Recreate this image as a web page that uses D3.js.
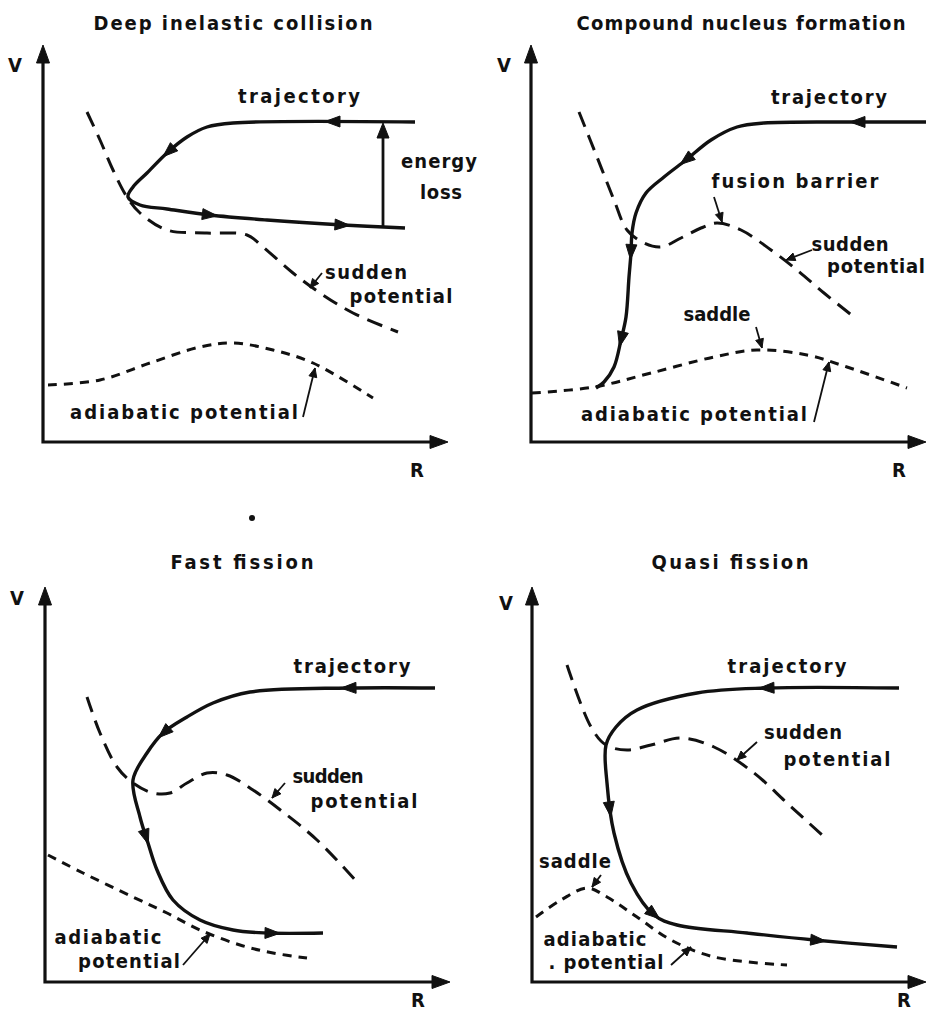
<!DOCTYPE html>
<html>
<head>
<meta charset="utf-8">
<title>Reaction trajectories</title>
<script src="https://cdn.jsdelivr.net/npm/d3@7"></script>
<style>
  body { margin: 0; background: #fff; }
  text { font-family: "DejaVu Sans Condensed", "DejaVu Sans", sans-serif; font-weight: bold; fill: #111; }
</style>
</head>
<body>
<svg id="fig" width="927" height="1015"></svg>
<script>
// Values in (R, V) units, both axes running 0..100.
const titles = ['Deep inelastic collision', 'Compound nucleus formation', 'Fast fission', 'Quasi fission'];

// trajectories, listed in the direction of travel
const trajDeep = [[93, 80], [47.5, 79.75], [41, 78.75], [36, 76.25], [31.25, 72.5], [26, 67.25], [22.5, 63.75],
  [21.25, 61.25], [24.25, 59.25], [31, 58.25], [41.75, 56.75], [56, 55.5], [75, 54.25], [90.5, 53.5]];
const trajCompound = [[98.75, 80], [81.5, 80], [58.25, 79.75], [51.5, 78.75], [45, 75.5], [38.75, 70.5], [33.25, 66.25],
  [28.75, 62.25], [26.25, 57.25], [25.25, 52.25], [25, 47.25], [24.5, 41.25], [23.75, 31.25], [22.5, 25.5],
  [20.75, 18.75], [18.25, 15], [16.25, 13.5]];
const trajFast = [[97.5, 73.5], [75.75, 73.5], [51.25, 72.5], [42, 69.75], [35.5, 66.25], [29.5, 62.25], [25.5, 57.25],
  [22, 50.5], [23.75, 41.25], [25.75, 34.75], [28, 28], [32, 20.5], [38.75, 15.5], [47, 13], [55.5, 12.25], [69.5, 12.25]];
const trajQuasi = [[91.75, 73.5], [58.5, 73.5], [41.25, 72.25], [26.25, 68], [21, 63.75], [18.5, 59.25], [18.75, 49.75],
  [20.5, 37.25], [24.75, 24.75], [30.5, 16.75], [36.25, 14.25], [53.75, 12.25], [70.5, 10.5], [91.25, 8.75]];

// where the direction marks sit on each trajectory
const arrowsDeep = [[72.25, 80], [31.25, 72.5], [41.75, 56.75], [75, 54.25]];
const arrowsCompound = [[81.5, 80], [38.75, 70.5], [25.25, 47.25], [22.5, 25.5]];
const arrowsFast = [[75.75, 73.5], [29.5, 62.25], [25.5, 36.25], [57, 12.25]];
const arrowsQuasi = [[58.5, 73.5], [19.75, 43], [31, 17.25], [71.75, 10.5]];

// sudden potentials (long dashes)
const suddenDeep = [[11, 82.5], [14.25, 75.5], [17.5, 68], [21, 61.25], [24.25, 57.25], [31, 53], [41, 52.25],
  [51, 51.75], [55, 48.75], [62.5, 42.25], [69.25, 37.25], [77.5, 32.25], [88.75, 27.5]];
const suddenCompound = [[12, 82.5], [16.5, 71.25], [20.75, 60.5], [24, 53], [28.25, 49.75], [32.5, 48.75], [37.5, 51],
  [42.5, 53.5], [46.5, 54.75], [52.5, 53], [60, 48], [66.5, 43], [73.25, 37.25], [80.75, 31.25]];
const suddenFast = [[10.5, 71.25], [13.75, 62.25], [18, 53.75], [22, 49.75], [27, 47.25], [31.25, 47.25], [35.5, 49.75],
  [40.5, 52.25], [45.5, 51.75], [52, 48], [59.5, 42.5], [68, 35.5], [78.25, 24.75]];
const suddenQuasi = [[8.75, 79.25], [14.75, 63.75], [18.5, 59.25], [23.75, 58], [29.75, 59.25], [37.25, 61],
  [45.5, 58.75], [55.5, 52.25], [63.75, 44.75], [72.5, 36.75]];

// adiabatic potentials (short dashes)
const adiabaticDeep = [[1.25, 14.25], [14.25, 15.5], [26.75, 19.75], [39.25, 23.75], [47.5, 24.75], [57.5, 23],
  [67.5, 19.75], [82.5, 11]];
const adiabaticCompound = [[0.25, 12.25], [15.75, 13.75], [30, 17.25], [45.75, 21.25], [56.5, 23], [69, 21.75],
  [79, 18.75], [94, 13.5]];
const adiabaticFast = [[0.75, 31.75], [9.5, 27.25], [22, 21.25], [30.5, 17.25], [38.75, 13], [48.75, 9.25],
  [57, 7.25], [65.5, 6]];
const adiabaticQuasi = [[1, 16.25], [7.25, 20.5], [13.75, 23.5], [18.75, 21.25], [26.25, 16.25], [34.75, 10.5],
  [45.5, 6.25], [63.75, 4.25]];

// energy loss in the deep inelastic case: outgoing and incoming levels at R = 85
const energyLoss = [[85, 53.75], [85, 80]];

// layout of each panel (pixels for origin / axis length, annotations in R,V units)
const panels = [
  {
    title: titles[0], titleAt: [47.5, 104.75], titleW: 279,
    origin: [43, 442], axisLen: [405, 397],
    traj: trajDeep, arrows: arrowsDeep, sudden: suddenDeep, adiabatic: adiabaticDeep,
    vAt: [-7, 94.25], rAt: [93.5, -7],
    labels: [
      { t: 'trajectory', at: [64, 86.25], w: 122 },
      { t: 'energy', at: [99, 70], w: 76 },
      { t: 'loss', at: [99.5, 62.25], w: 42 },
      { t: 'sudden', at: [80.75, 42.25], w: 82 },
      { t: 'potential', at: [89.5, 36.25], w: 103 },
      { t: 'adiabatic potential', at: [35.25, 7.25], w: 228 }
    ],
    leaders: [[[69.75, 42.25], [66.75, 38.5]], [[65, 6.25], [68, 18.5]]]
  },
  {
    title: titles[1], titleAt: [52.5, 104.75], titleW: 329,
    origin: [531, 442], axisLen: [395, 397],
    traj: trajCompound, arrows: arrowsCompound, sudden: suddenCompound, adiabatic: adiabaticCompound,
    vAt: [-6.75, 94.25], rAt: [92, -7],
    labels: [
      { t: 'trajectory', at: [74.5, 86], w: 116 },
      { t: 'fusion barrier', at: [66, 65], w: 167 },
      { t: 'sudden', at: [79.75, 49.25], w: 77 },
      { t: 'potential', at: [86.25, 43.75], w: 98 },
      { t: 'saddle', at: [46.5, 31.75], w: 67 },
      { t: 'adiabatic potential', at: [40.75, 6.75], w: 226 }
    ],
    leaders: [[[45.75, 61.25], [47.75, 55]], [[70.25, 48], [63.75, 45.5]],
      [[56.25, 28.75], [57.75, 23.5]], [[70.75, 5], [74.5, 20]]]
  },
  {
    title: titles[2], titleAt: [49.25, 105], titleW: 143,
    origin: [45, 982], axisLen: [405, 395],
    traj: trajFast, arrows: arrowsFast, sudden: suddenFast, adiabatic: adiabaticFast,
    vAt: [-7, 96], rAt: [93.25, -4.5], dot: [51.75, 116],
    labels: [
      { t: 'trajectory', at: [76.75, 78.75], w: 117 },
      { t: 'sudden', at: [70.75, 51.25], w: 71 },
      { t: 'potential', at: [79.75, 45], w: 107 },
      { t: 'adiabatic', at: [15.75, 11], w: 107 },
      { t: 'potential', at: [21, 5], w: 102 }
    ],
    leaders: [[[60, 49.75], [56.75, 46]], [[34.5, 4.25], [41.25, 12]]]
  },
  {
    title: titles[3], titleAt: [49.5, 105], titleW: 157,
    origin: [532, 982], axisLen: [394, 395],
    traj: trajQuasi, arrows: arrowsQuasi, sudden: suddenQuasi, adiabatic: adiabaticQuasi,
    vAt: [-6.5, 94.75], rAt: [93, -4.5],
    labels: [
      { t: 'trajectory', at: [63.75, 78.75], w: 119 },
      { t: 'sudden', at: [67.75, 62.25], w: 78 },
      { t: 'potential', at: [76.25, 55.5], w: 107 },
      { t: 'saddle', at: [10.75, 30], w: 72 },
      { t: 'adiabatic', at: [15.75, 10.5], w: 103 },
      { t: '. potential', at: [18.5, 4.75], w: 115 }
    ],
    leaders: [[[56.25, 60], [51.25, 55.5]], [[17.25, 26.75], [15, 23.75]], [[34.75, 4.25], [39.75, 8.75]]]
  }
];

const ink = '#111';
const svg = d3.select('#fig');

// filled triangle pointing along (dx, dy) with its tip at (x, y)
function arrowHead(g, x, y, dx, dy, len, half) {
  const n = Math.hypot(dx, dy) || 1;
  const ux = dx / n, uy = dy / n;
  const bx = x - ux * len, by = y - uy * len;
  g.append('path')
    .attr('d', `M${x},${y}L${bx - uy * half},${by + ux * half}L${bx + uy * half},${by - ux * half}Z`)
    .attr('fill', ink).attr('stroke', ink).attr('stroke-width', 1).attr('stroke-linejoin', 'round');
}

function drawPanel(p) {
  const [x0, y0] = p.origin;
  const x = d3.scaleLinear().domain([0, 100]).range([x0, x0 + 400]);
  const y = d3.scaleLinear().domain([0, 100]).range([y0, y0 - 400]);
  const g = svg.append('g').attr('class', 'panel');
  const line = d3.line().x(d => x(d[0])).y(d => y(d[1])).curve(d3.curveCatmullRom.alpha(0.5));

  // axes with arrow tips
  const xEnd = x0 + p.axisLen[0], yEnd = y0 - p.axisLen[1];
  g.append('path').attr('d', `M${x0},${yEnd + 8}V${y0}H${xEnd - 8}`)
    .attr('fill', 'none').attr('stroke', ink).attr('stroke-width', 3.2);
  arrowHead(g, x0, yEnd, 0, -1, 18, 6.5);
  arrowHead(g, xEnd, y0, 1, 0, 18, 6.5);

  g.append('text').attr('x', x(p.vAt[0])).attr('y', y(p.vAt[1])).attr('dy', '0.35em')
    .attr('text-anchor', 'middle').attr('font-size', 20).text('V');
  g.append('text').attr('x', x(p.rAt[0])).attr('y', y(p.rAt[1])).attr('dy', '0.35em')
    .attr('text-anchor', 'middle').attr('font-size', 20).text('R');

  g.append('path').datum(p.adiabatic).attr('d', line)
    .attr('fill', 'none').attr('stroke', ink).attr('stroke-width', 3).attr('stroke-dasharray', '9,7');
  g.append('path').datum(p.sudden).attr('d', line)
    .attr('fill', 'none').attr('stroke', ink).attr('stroke-width', 3).attr('stroke-dasharray', '16,9');

  const traj = g.append('path').datum(p.traj).attr('d', line)
    .attr('fill', 'none').attr('stroke', ink).attr('stroke-width', 3.4);

  // direction marks: nearest sample on the path, tangent from neighbours
  const node = traj.node();
  const total = node.getTotalLength();
  const samples = d3.range(0, total, 1).map(l => ({ l, pt: node.getPointAtLength(l) }));
  p.arrows.forEach(a => {
    const ax = x(a[0]), ay = y(a[1]);
    const best = d3.least(samples, s => (s.pt.x - ax) ** 2 + (s.pt.y - ay) ** 2);
    const p1 = node.getPointAtLength(Math.max(0, best.l - 3));
    const p2 = node.getPointAtLength(Math.min(total, best.l + 3));
    const tip = node.getPointAtLength(Math.min(total, best.l + 7));
    arrowHead(g, tip.x, tip.y, p2.x - p1.x, p2.y - p1.y, 15, 5.5);
  });

  if (p === panels[0]) {
    g.append('line').attr('x1', x(energyLoss[0][0])).attr('y1', y(energyLoss[0][1]))
      .attr('x2', x(energyLoss[1][0])).attr('y2', y(energyLoss[1][1]) + 10)
      .attr('stroke', ink).attr('stroke-width', 2.8);
    arrowHead(g, x(energyLoss[1][0]), y(energyLoss[1][1]) + 1, 0, -1, 15, 6);
  }

  // leader lines from labels onto the curves
  p.leaders.forEach(([a, b]) => {
    const dx = x(b[0]) - x(a[0]), dy = y(b[1]) - y(a[1]);
    g.append('line').attr('x1', x(a[0])).attr('y1', y(a[1])).attr('x2', x(b[0])).attr('y2', y(b[1]))
      .attr('stroke', ink).attr('stroke-width', 1.8);
    arrowHead(g, x(b[0]), y(b[1]), dx, dy, 9, 4);
  });

  p.labels.forEach(lb => {
    g.append('text').attr('x', x(lb.at[0]) - lb.w / 2).attr('y', y(lb.at[1])).attr('dy', '0.3em')
      .attr('font-size', 20).attr('textLength', lb.w).attr('lengthAdjust', 'spacing').text(lb.t);
  });

  g.append('text').attr('x', x(p.titleAt[0]) - p.titleW / 2).attr('y', y(p.titleAt[1])).attr('dy', '0.35em')
    .attr('font-size', 20).attr('textLength', p.titleW).attr('lengthAdjust', 'spacing').text(p.title);

  if (p.dot) {
    g.append('circle').attr('cx', x(p.dot[0])).attr('cy', y(p.dot[1])).attr('r', 3).attr('fill', ink);
  }
}

panels.forEach(drawPanel);
</script>
</body>
</html>
